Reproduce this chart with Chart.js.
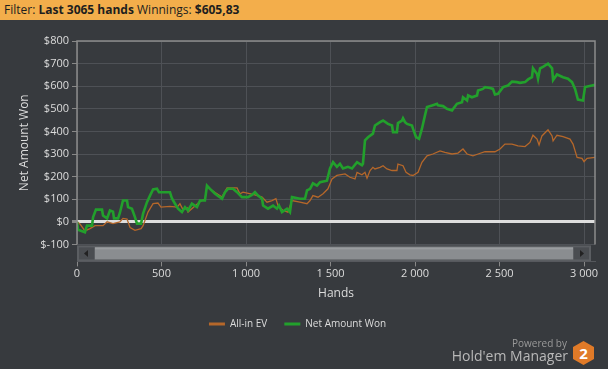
<!DOCTYPE html>
<html>
<head>
<meta charset="utf-8">
<script src="https://cdn.jsdelivr.net/npm/chart.js@4/dist/chart.umd.min.js"></script>
<style>
  body { margin: 0; background: #373a3e; width: 608px; height: 369px; overflow: hidden; position: relative; font-family: "Open Sans", sans-serif; }
  #header { position: absolute; left: 0; top: 0; width: 608px; height: 20px; background: #f3ae4b; color: #1e1e1e; font-size: 12px; line-height: 20px; padding-left: 4px; box-sizing: border-box; }
  #header b { font-weight: 700; }
  #chart { position: absolute; left: 0; top: 20px; }
  #powered { position: absolute; right: 41px; top: 336px; font-size: 10px; color: #9a9a9a; }
  #hm { position: absolute; right: 40px; top: 346px; font-size: 14px; color: #b9b9b9; }
  #logo { position: absolute; left: 573px; top: 341px; width: 21px; height: 24px; background: #e07a28; color: #fff; font-weight: 700; font-size: 15px; text-align: center; line-height: 24px;
          clip-path: polygon(50% 0, 100% 25%, 100% 75%, 50% 100%, 0 75%, 0 25%); }
</style>
</head>
<body>
<div id="header">Filter: <b>Last 3065 hands</b> Winnings: <b>$605,83</b></div>
<canvas id="chart" width="608" height="349"></canvas>
<div id="powered">Powered by</div>
<div id="hm">Hold'em Manager</div>
<div id="logo">2</div>
<script>
// Net Amount Won
var wonHands = [0, 6, 47, 59, 89, 95, 112, 148, 154, 178, 195, 213, 219, 243, 254, 272, 296, 302, 325, 343, 355, 379, 391, 414, 432, 450, 473, 485, 550, 562, 580, 598, 621, 639, 657, 680, 710, 728, 757, 769, 787, 817, 858, 876, 893, 923, 947, 976, 1012, 1035, 1053, 1071, 1095, 1101, 1130, 1160, 1183, 1195, 1213, 1243, 1260, 1272, 1319, 1349, 1361, 1379, 1396, 1420, 1438, 1479, 1497, 1515, 1538, 1556, 1574, 1603, 1627, 1657, 1686, 1692, 1704, 1722, 1751, 1763, 1793, 1811, 1840, 1864, 1870, 1893, 1899, 1923, 1929, 1941, 1953, 1982, 1988, 2006, 2024, 2041, 2059, 2071, 2101, 2130, 2136, 2166, 2189, 2219, 2248, 2278, 2284, 2308, 2314, 2337, 2367, 2373, 2402, 2414, 2444, 2461, 2473, 2491, 2521, 2550, 2574, 2603, 2621, 2651, 2669, 2692, 2698, 2722, 2728, 2740, 2757, 2787, 2811, 2817, 2840, 2876, 2905, 2929, 2947, 2964, 2994, 3006, 3047, 3065];
var wonValues = [0, -35, -46, -17, -17, 20, 54, 54, 28, 15, 50, 45, 15, 15, 40, 94, 94, 65, 58, 21, -8, -8, 36, 87, 116, 143, 146, 131, 131, 103, 80, 58, 43, 65, 50, 80, 65, 94, 94, 160, 146, 124, 102, 131, 146, 146, 131, 109, 109, 119, 131, 116, 102, 72, 58, 72, 58, 72, 43, 58, 43, 109, 102, 102, 139, 146, 170, 160, 175, 182, 236, 264, 243, 257, 236, 243, 236, 264, 250, 257, 360, 374, 390, 426, 441, 448, 433, 426, 397, 397, 437, 448, 458, 441, 433, 426, 412, 375, 367, 412, 471, 508, 515, 522, 515, 512, 500, 493, 522, 529, 551, 537, 559, 551, 559, 581, 588, 596, 592, 588, 563, 566, 596, 603, 620, 618, 615, 618, 630, 640, 679, 654, 633, 679, 686, 700, 679, 627, 652, 640, 633, 618, 588, 541, 537, 596, 603, 605.83];

// All-in EV
var evHands = [0, 18, 47, 77, 107, 154, 178, 213, 254, 272, 296, 314, 343, 379, 391, 420, 450, 479, 497, 550, 592, 609, 627, 651, 657, 698, 728, 757, 769, 817, 858, 888, 947, 964, 982, 1053, 1095, 1124, 1154, 1177, 1189, 1219, 1248, 1272, 1319, 1361, 1379, 1396, 1426, 1456, 1485, 1509, 1538, 1586, 1615, 1645, 1657, 1686, 1704, 1716, 1734, 1751, 1763, 1793, 1811, 1834, 1864, 1893, 1899, 1929, 1947, 1970, 1988, 2018, 2041, 2071, 2106, 2148, 2177, 2219, 2254, 2284, 2308, 2343, 2373, 2414, 2473, 2503, 2532, 2574, 2609, 2651, 2680, 2698, 2722, 2734, 2751, 2787, 2811, 2817, 2840, 2876, 2917, 2935, 2959, 2988, 3000, 3018, 3065];
var evValues = [0, -10, -40, -30, -17, -17, 0, -8, 0, 15, 12, -25, -38, -30, -17, 43, 80, 83, 65, 68, 65, 80, 54, 62, 43, 70, 90, 100, 155, 130, 110, 150, 150, 124, 131, 119, 109, 87, 94, 102, 72, 50, 43, 94, 87, 80, 94, 116, 109, 124, 146, 190, 205, 212, 197, 190, 219, 208, 219, 193, 227, 241, 234, 241, 248, 234, 227, 227, 255, 248, 219, 208, 205, 219, 263, 292, 300, 314, 307, 300, 304, 322, 300, 292, 300, 310, 310, 322, 344, 344, 336, 333, 351, 383, 366, 340, 380, 407, 380, 358, 383, 377, 366, 344, 285, 281, 266, 281, 285];

var xTicks = [0, 500, 1000, 1500, 2000, 2500, 3000];
var yTicks = [-100, 0, 100, 200, 300, 400, 500, 600, 700, 800];

function toPoints(xs, ys) {
  return xs.map(function (h, i) { return { x: h, y: ys[i] }; });
}

function fixTicks(list) {
  return function (scale) { scale.ticks = list.map(function (v) { return { value: v }; }); };
}

var FONT = "'Open Sans', sans-serif";

// frame round the plot plus the little scrollbar under it
var framePlugin = {
  id: "frame",
  afterDraw: function (chart) {
    var c = chart.ctx, a = chart.chartArea;
    c.save();
    c.strokeStyle = "#8c8c8c";
    c.lineWidth = 1.5;
    c.beginPath();
    c.moveTo(a.left, a.bottom);
    c.lineTo(a.left, a.top);
    c.lineTo(a.right, a.top);
    c.lineTo(a.right, a.bottom);
    c.stroke();

    var top = a.bottom + 1, h = 16, l = a.left, r = a.right - 4;
    c.fillStyle = "#5b5e62";
    c.fillRect(l, top, r - l, h);
    c.fillStyle = "#4a4d51";
    c.fillRect(l + 2, top + 2, 15, h - 4);
    c.fillRect(r - 17, top + 2, 15, h - 4);
    c.fillStyle = "#8a8d90";
    c.fillRect(l + 18, top + 2, r - l - 36, h - 4);
    c.fillStyle = "#9a9da0";
    c.fillRect(l + 18, top + 2, r - l - 36, 2);
    c.fillStyle = "#222";
    c.beginPath();
    c.moveTo(l + 7, top + h / 2);
    c.lineTo(l + 11, top + h / 2 - 3.5);
    c.lineTo(l + 11, top + h / 2 + 3.5);
    c.fill();
    c.beginPath();
    c.moveTo(r - 7, top + h / 2);
    c.lineTo(r - 11, top + h / 2 - 3.5);
    c.lineTo(r - 11, top + h / 2 + 3.5);
    c.fill();
    c.restore();
  }
};

var chart = new Chart(document.getElementById("chart"), {
  type: "line",
  data: {
    datasets: [
      {
        label: "All-in EV",
        data: toPoints(evHands, evValues),
        borderColor: "#b5672a",
        backgroundColor: "#b5672a",
        borderWidth: 1.3,
        pointRadius: 0,
        tension: 0,
        order: 1
      },
      {
        label: "Net Amount Won",
        data: toPoints(wonHands, wonValues),
        borderColor: "#22a02c",
        backgroundColor: "#22a02c",
        borderWidth: 2.6,
        pointRadius: 0,
        tension: 0,
        order: 0
      }
    ]
  },
  options: {
    responsive: false,
    animation: false,
    layout: { padding: { left: 0, right: 13, top: 21, bottom: 30 } },
    scales: {
      x: {
        type: "linear",
        min: 0,
        max: 3065,
        weight: 0,
        afterBuildTicks: fixTicks(xTicks),
        ticks: { display: false },
        grid: { color: "#4e5156", drawTicks: false },
        border: { display: false },
        afterFit: function (scale) { scale.height = 17; }
      },
      x2: {
        type: "linear",
        position: "bottom",
        min: 0,
        max: 3065,
        weight: 1,
        afterBuildTicks: fixTicks(xTicks),
        grid: { drawOnChartArea: false, tickLength: 5, tickColor: "#888" },
        border: { color: "#55585c" },
        ticks: {
          color: "#dcdcdc",
          font: { family: FONT, size: 11 },
          padding: 1,
          autoSkip: false,
          maxRotation: 0,
          callback: function (v) { return String(v).replace(/\B(?=(\d{3})+(?!\d))/g, " "); }
        },
        title: { display: true, text: "Hands", color: "#dcdcdc", font: { family: FONT, size: 12 }, padding: { top: 5, bottom: 1 } }
      },
      y: {
        min: -100,
        max: 800,
        afterBuildTicks: fixTicks(yTicks),
        afterFit: function (scale) { scale.width = 77; },
        grid: {
          color: function (c) { return c.tick && c.tick.value === 0 ? "#dedede" : "#4e5156"; },
          lineWidth: function (c) { return c.tick && c.tick.value === 0 ? 3 : 1; },
          tickLength: 5,
          tickColor: "#888"
        },
        border: { display: false },
        ticks: {
          color: "#dcdcdc",
          font: { family: FONT, size: 11 },
          padding: 3,
          callback: function (v) { return "$" + v; }
        },
        title: { display: true, text: "Net Amount Won", color: "#dcdcdc", font: { family: FONT, size: 12 }, padding: { top: 17, bottom: 0 } }
      }
    },
    plugins: {
      legend: {
        position: "bottom",
        labels: {
          color: "#dcdcdc",
          font: { family: FONT, size: 10 },
          boxWidth: 16,
          boxHeight: 3,
          padding: 17,
          generateLabels: function (ch) {
            return ch.data.datasets.map(function (d, i) {
              return { text: d.label, fillStyle: d.borderColor, strokeStyle: d.borderColor, lineWidth: 0, datasetIndex: i, fontColor: "#dcdcdc" };
            });
          }
        }
      },
      tooltip: { enabled: false }
    }
  },
  plugins: [framePlugin]
});
</script>
</body>
</html>
